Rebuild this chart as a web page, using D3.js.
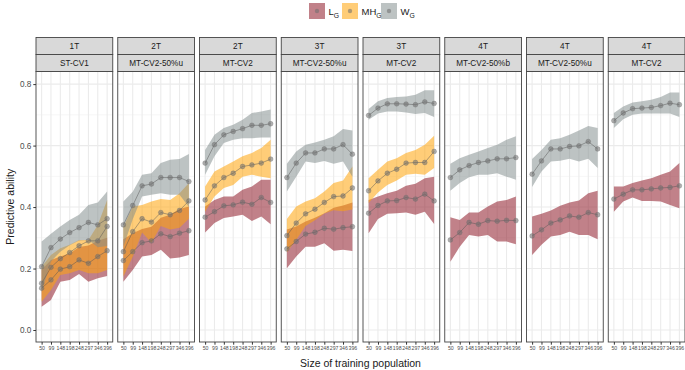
<!DOCTYPE html>
<html>
<head>
<meta charset="utf-8">
<script src="https://cdn.jsdelivr.net/npm/d3@7"></script>
<style>
  body { margin: 0; background: #fff; }
  svg { font-family: "Liberation Sans", Arial, sans-serif; }
</style>
</head>
<body>
<div id="chart"></div>
<script>
// data
var sizes = ["50", "99", "148", "198", "248", "297", "346", "396"];
var traitLabels = ["1T", "2T", "2T", "3T", "3T", "4T", "4T", "4T"];
var schemeLabels = ["ST-CV1", "MT-CV2-50%u", "MT-CV2", "MT-CV2-50%u", "MT-CV2", "MT-CV2-50%b", "MT-CV2-50%u", "MT-CV2"];
var yTicks = [0, 0.2, 0.4, 0.6, 0.8];

var L_mean = [
  [0.136, 0.163, 0.198, 0.206, 0.228, 0.217, 0.239, 0.258],
  [0.226, 0.255, 0.284, 0.290, 0.313, 0.304, 0.315, 0.323],
  [0.367, 0.385, 0.404, 0.407, 0.416, 0.409, 0.431, 0.415],
  [0.264, 0.288, 0.312, 0.318, 0.331, 0.328, 0.333, 0.336],
  [0.380, 0.405, 0.420, 0.421, 0.431, 0.426, 0.442, 0.420],
  [0.293, 0.317, 0.350, 0.344, 0.356, 0.354, 0.357, 0.356],
  [0.306, 0.326, 0.348, 0.358, 0.371, 0.367, 0.382, 0.375],
  [0.426, 0.442, 0.456, 0.456, 0.459, 0.462, 0.464, 0.469]
];
var L_lo = [
  [0.076, 0.098, 0.157, 0.163, 0.182, 0.157, 0.168, 0.176],
  [0.157, 0.195, 0.239, 0.244, 0.261, 0.233, 0.236, 0.244],
  [0.317, 0.348, 0.364, 0.369, 0.375, 0.355, 0.369, 0.344],
  [0.201, 0.239, 0.271, 0.271, 0.282, 0.258, 0.261, 0.257],
  [0.315, 0.361, 0.378, 0.380, 0.382, 0.375, 0.385, 0.345],
  [0.222, 0.271, 0.309, 0.304, 0.309, 0.288, 0.288, 0.279],
  [0.244, 0.277, 0.304, 0.309, 0.320, 0.309, 0.309, 0.295],
  [0.385, 0.418, 0.431, 0.420, 0.420, 0.418, 0.407, 0.396]
];
var L_hi = [
  [0.196, 0.228, 0.239, 0.249, 0.270, 0.275, 0.290, 0.300],
  [0.295, 0.315, 0.329, 0.336, 0.365, 0.375, 0.394, 0.402],
  [0.402, 0.423, 0.434, 0.434, 0.456, 0.467, 0.489, 0.489],
  [0.327, 0.337, 0.353, 0.365, 0.380, 0.398, 0.405, 0.415],
  [0.423, 0.434, 0.445, 0.453, 0.469, 0.476, 0.494, 0.499],
  [0.367, 0.358, 0.382, 0.382, 0.402, 0.418, 0.423, 0.434],
  [0.369, 0.378, 0.389, 0.404, 0.415, 0.421, 0.445, 0.453],
  [0.467, 0.467, 0.478, 0.486, 0.494, 0.505, 0.516, 0.543]
];

var MH_mean = [
  [0.152, 0.204, 0.232, 0.252, 0.274, 0.290, 0.290, 0.337],
  [0.255, 0.320, 0.362, 0.351, 0.382, 0.375, 0.389, 0.420],
  [0.423, 0.469, 0.496, 0.510, 0.532, 0.537, 0.543, 0.556],
  [0.307, 0.348, 0.378, 0.393, 0.415, 0.434, 0.436, 0.462],
  [0.453, 0.485, 0.510, 0.523, 0.543, 0.545, 0.545, 0.581],
  null, null, null
];
var MH_lo = [
  [0.092, 0.130, 0.179, 0.185, 0.195, 0.185, 0.185, 0.195],
  [0.174, 0.238, 0.317, 0.284, 0.338, 0.327, 0.333, 0.362],
  [0.385, 0.434, 0.462, 0.472, 0.499, 0.505, 0.499, 0.494],
  [0.253, 0.294, 0.338, 0.357, 0.379, 0.390, 0.386, 0.392],
  [0.413, 0.447, 0.472, 0.486, 0.505, 0.508, 0.505, 0.527],
  null, null, null
];
var MH_hi = [
  [0.206, 0.244, 0.266, 0.277, 0.293, 0.293, 0.342, 0.423],
  [0.336, 0.402, 0.407, 0.418, 0.426, 0.423, 0.445, 0.478],
  [0.467, 0.516, 0.532, 0.548, 0.565, 0.576, 0.592, 0.619],
  [0.361, 0.402, 0.418, 0.429, 0.451, 0.478, 0.486, 0.532],
  [0.494, 0.521, 0.548, 0.559, 0.576, 0.586, 0.603, 0.632],
  null, null, null
];

var W_mean = [
  [0.206, 0.268, 0.296, 0.317, 0.333, 0.350, 0.342, 0.362],
  [0.342, 0.405, 0.469, 0.475, 0.496, 0.496, 0.496, 0.483],
  [0.543, 0.603, 0.635, 0.646, 0.655, 0.666, 0.666, 0.671],
  [0.496, 0.543, 0.576, 0.576, 0.589, 0.589, 0.603, 0.572],
  [0.698, 0.722, 0.736, 0.736, 0.735, 0.733, 0.742, 0.737],
  [0.496, 0.521, 0.535, 0.545, 0.550, 0.557, 0.557, 0.561],
  [0.507, 0.550, 0.589, 0.589, 0.597, 0.599, 0.613, 0.589],
  [0.681, 0.706, 0.720, 0.722, 0.724, 0.730, 0.738, 0.733]
];
var W_lo = [
  [0.124, 0.223, 0.255, 0.276, 0.291, 0.293, 0.269, 0.273],
  [0.271, 0.360, 0.434, 0.440, 0.445, 0.440, 0.440, 0.400],
  [0.505, 0.565, 0.608, 0.619, 0.624, 0.624, 0.626, 0.626],
  [0.451, 0.499, 0.548, 0.543, 0.550, 0.541, 0.548, 0.499],
  [0.684, 0.704, 0.711, 0.711, 0.708, 0.703, 0.706, 0.693],
  [0.453, 0.478, 0.497, 0.505, 0.505, 0.510, 0.499, 0.489],
  [0.465, 0.516, 0.548, 0.551, 0.557, 0.548, 0.557, 0.527],
  [0.657, 0.686, 0.700, 0.704, 0.704, 0.704, 0.704, 0.693]
];
var W_hi = [
  [0.288, 0.313, 0.337, 0.358, 0.375, 0.407, 0.415, 0.451],
  [0.418, 0.450, 0.505, 0.510, 0.543, 0.554, 0.556, 0.573],
  [0.586, 0.635, 0.657, 0.668, 0.684, 0.706, 0.711, 0.717],
  [0.541, 0.581, 0.603, 0.610, 0.619, 0.630, 0.654, 0.649],
  [0.719, 0.744, 0.755, 0.758, 0.760, 0.765, 0.780, 0.780],
  [0.541, 0.559, 0.570, 0.581, 0.592, 0.603, 0.619, 0.630],
  [0.556, 0.586, 0.619, 0.624, 0.635, 0.649, 0.664, 0.657],
  [0.706, 0.727, 0.740, 0.744, 0.749, 0.758, 0.773, 0.773]
];

var groups = [
  {name: "L", fill: "#922230", alpha: 0.57, mean: L_mean, lo: L_lo, hi: L_hi},
  {name: "MH", fill: "#ffa40a", alpha: 0.55, mean: MH_mean, lo: MH_lo, hi: MH_hi},
  {name: "W", fill: "#808c8c", alpha: 0.52, mean: W_mean, lo: W_lo, hi: W_hi}
];

// -----------------------------------------------------------------------------
// layout
// -----------------------------------------------------------------------------
var width = 685, height = 370;
var plotLeft = 36, plotRight = 685, gap = 5;
var nPanels = traitLabels.length;
var panelW = (plotRight - plotLeft - gap * (nPanels - 1)) / nPanels;
var stripTop = 37.5, stripH = 17;
var panelTop = stripTop + 2 * stripH, panelBottom = 342;

var svg = d3.select("#chart").append("svg")
    .attr("width", width)
    .attr("height", height);

var yScale = d3.scaleLinear()
    .domain([-0.039, 0.841])
    .range([panelBottom, panelTop]);

var xScale = d3.scalePoint()
    .domain(sizes)
    .range([0, panelW])
    .padding(0.6);

var area = d3.area()
    .x(function(d, i) { return xScale(sizes[i]); })
    .y0(function(d) { return yScale(d[0]); })
    .y1(function(d) { return yScale(d[1]); });

var line = d3.line()
    .x(function(d, i) { return xScale(sizes[i]); })
    .y(function(d) { return yScale(d); });

traitLabels.forEach(function(trait, p) {
  var x0 = plotLeft + p * (panelW + gap);
  var g = svg.append("g").attr("transform", "translate(" + x0 + ",0)");

  // panel background + grid
  g.append("rect")
      .attr("x", 0).attr("y", panelTop)
      .attr("width", panelW).attr("height", panelBottom - panelTop)
      .attr("fill", "#fff");

  d3.range(0.1, 0.8, 0.2).forEach(function(v) {
    g.append("line")
        .attr("x1", 0).attr("x2", panelW)
        .attr("y1", yScale(v)).attr("y2", yScale(v))
        .attr("stroke", "#f2f2f2").attr("stroke-width", 0.6);
  });
  yTicks.forEach(function(v) {
    g.append("line")
        .attr("x1", 0).attr("x2", panelW)
        .attr("y1", yScale(v)).attr("y2", yScale(v))
        .attr("stroke", "#ebebeb").attr("stroke-width", 1.1);
  });
  sizes.forEach(function(s) {
    g.append("line")
        .attr("x1", xScale(s)).attr("x2", xScale(s))
        .attr("y1", panelTop).attr("y2", panelBottom)
        .attr("stroke", "#ebebeb").attr("stroke-width", 1.1);
  });

  // ribbons
  groups.forEach(function(grp) {
    if (!grp.mean[p]) return;
    var band = grp.lo[p].map(function(lo, i) { return [lo, grp.hi[p][i]]; });
    g.append("path")
        .datum(band)
        .attr("d", area)
        .attr("fill", grp.fill)
        .attr("fill-opacity", grp.alpha);
  });

  // lines + points
  groups.forEach(function(grp) {
    if (!grp.mean[p]) return;
    g.append("path")
        .datum(grp.mean[p])
        .attr("d", line)
        .attr("fill", "none")
        .attr("stroke", "#555")
        .attr("stroke-opacity", 0.8)
        .attr("stroke-width", 0.6);
    g.selectAll(null)
        .data(grp.mean[p])
        .enter().append("circle")
        .attr("cx", function(d, i) { return xScale(sizes[i]); })
        .attr("cy", function(d) { return yScale(d); })
        .attr("r", 2.4)
        .attr("fill", "#6e6e6e")
        .attr("fill-opacity", 0.55)
        .attr("stroke", "#6e6e6e")
        .attr("stroke-opacity", 0.7)
        .attr("stroke-width", 0.5);
  });

  // panel border
  g.append("rect")
      .attr("x", 0).attr("y", panelTop)
      .attr("width", panelW).attr("height", panelBottom - panelTop)
      .attr("fill", "none")
      .attr("stroke", "#444").attr("stroke-width", 0.9);

  // strips
  [trait, schemeLabels[p]].forEach(function(label, k) {
    var sy = stripTop + k * stripH;
    g.append("rect")
        .attr("x", 0).attr("y", sy)
        .attr("width", panelW).attr("height", stripH)
        .attr("fill", "#d9d9d9")
        .attr("stroke", "#444").attr("stroke-width", 0.9);
    g.append("text")
        .attr("x", panelW / 2).attr("y", sy + stripH / 2)
        .attr("dy", "0.35em")
        .attr("text-anchor", "middle")
        .attr("font-size", 8.2)
        .attr("fill", "#1a1a1a")
        .text(label);
  });

  // x axis
  var xAxis = g.append("g")
      .attr("transform", "translate(0," + panelBottom + ")")
      .call(d3.axisBottom(xScale).tickSize(2.7).tickPadding(1.5));
  xAxis.select(".domain").remove();
  xAxis.selectAll(".tick line").attr("stroke", "#333");
  xAxis.selectAll(".tick text")
      .attr("font-size", 5.2)
      .attr("font-family", "Liberation Sans, Arial, sans-serif")
      .attr("fill", "#4d4d4d");

  if (p === 0) {
    var yAxis = g.append("g")
        .call(d3.axisLeft(yScale).tickValues(yTicks).tickFormat(d3.format(".1f"))
            .tickSize(2.7).tickPadding(2));
    yAxis.select(".domain").remove();
    yAxis.selectAll(".tick line").attr("stroke", "#333");
    yAxis.selectAll(".tick text")
        .attr("font-size", 8.2)
        .attr("font-family", "Liberation Sans, Arial, sans-serif")
        .attr("fill", "#4d4d4d");
  }
});

// axis titles
svg.append("text")
    .attr("x", (plotLeft + plotRight) / 2)
    .attr("y", 367)
    .attr("text-anchor", "middle")
    .attr("font-size", 10.5)
    .attr("fill", "#1a1a1a")
    .text("Size of training population");

svg.append("text")
    .attr("transform", "translate(14," + (panelTop + panelBottom) / 2 + ") rotate(-90)")
    .attr("text-anchor", "middle")
    .attr("font-size", 10.5)
    .attr("fill", "#1a1a1a")
    .text("Predictive ability");

// legend
var legendX = [309, 342, 381];
var legend = svg.append("g");
groups.forEach(function(grp, i) {
  var lx = legendX[i];
  legend.append("rect")
      .attr("x", lx).attr("y", 3)
      .attr("width", 16).attr("height", 16)
      .attr("fill", grp.fill)
      .attr("fill-opacity", grp.alpha);
  legend.append("circle")
      .attr("cx", lx + 8).attr("cy", 11)
      .attr("r", 2.2)
      .attr("fill", "#6e6e6e")
      .attr("fill-opacity", 0.55);
  var t = legend.append("text")
      .attr("x", lx + 19.5).attr("y", 15)
      .attr("font-size", 9.5)
      .attr("fill", "#1a1a1a");
  t.append("tspan").text(grp.name);
  t.append("tspan").attr("font-size", 6.8).attr("dy", 2.5).text("G");
});
</script>
</body>
</html>
